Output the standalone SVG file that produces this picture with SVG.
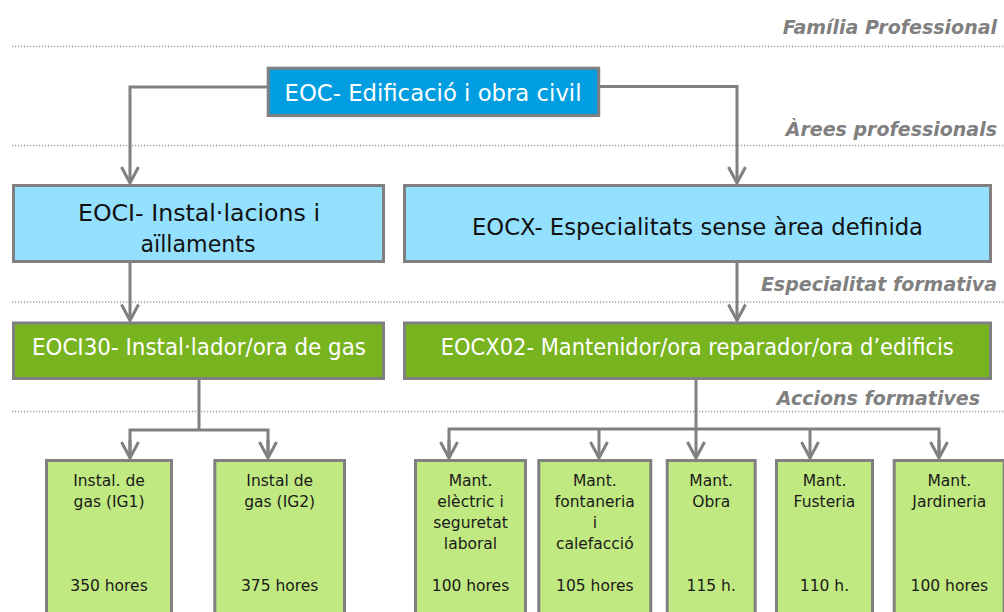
<svg xmlns="http://www.w3.org/2000/svg" width="1004" height="612" viewBox="0 0 1004 612">
<style>
.bg{fill:#ffffff}
.dot{stroke:#9a9a9a;stroke-width:1.5;stroke-dasharray:1.2 1.8;fill:none}
.lvl{font-family:"DejaVu Sans",Verdana,sans-serif;font-weight:bold;font-style:italic;font-size:19px;fill:#808080;text-anchor:end}
.box{stroke:#808080;stroke-width:3}
.fam{fill:#009EE0}
.area{fill:#94E0FF}
.esp{fill:#78B41F}
.acc{fill:#C1E981}
.t{font-family:"DejaVu Sans",Tahoma,Verdana,sans-serif;text-anchor:middle}
.big{font-size:23px}
.sm{font-size:15.5px;fill:#1a1a1a}
.w{fill:#ffffff}
.k{fill:#111111}
.con{stroke:#808080;stroke-width:3;fill:none}
</style>
<defs>
<marker id="arr" markerUnits="userSpaceOnUse" viewBox="-20 -12 22 24" refX="0" refY="0" markerWidth="22" markerHeight="24" orient="auto">
<path d="M-16,-8.5 L0,0 L-16,8.5" fill="none" stroke="#808080" stroke-width="3"/>
</marker>
</defs>
<rect class="bg" x="0" y="0" width="1004" height="612"/>
<g id="levels">
<text class="lvl" x="997" y="34">Família Professional</text>
<line class="dot" x1="12" y1="46.5" x2="1004" y2="46.5"/>
<text class="lvl" x="997" y="136">Àrees professionals</text>
<line class="dot" x1="12" y1="145.5" x2="1004" y2="145.5"/>
<text class="lvl" x="997" y="291">Especialitat formativa</text>
<line class="dot" x1="12" y1="302" x2="1004" y2="302"/>
<text class="lvl" x="980" y="405">Accions formatives</text>
<line class="dot" x1="12" y1="411.5" x2="1004" y2="411.5"/>
</g>
<g id="connectors">
<polyline class="con" points="268,87 130,87 130,183" marker-end="url(#arr)"/>
<polyline class="con" points="599,86.5 737,86.5 737,183" marker-end="url(#arr)"/>
<line class="con" x1="130" y1="262" x2="130" y2="320.5" marker-end="url(#arr)"/>
<line class="con" x1="737" y1="262" x2="737" y2="320.5" marker-end="url(#arr)"/>
<polyline class="con" points="199,379 199,430"/>
<polyline class="con" points="130,458 130,430 268,430 268,458"/>
<line class="con" x1="130" y1="440" x2="130" y2="458" marker-end="url(#arr)"/>
<line class="con" x1="268" y1="440" x2="268" y2="458" marker-end="url(#arr)"/>
<line class="con" x1="696" y1="379" x2="696" y2="458" marker-end="url(#arr)"/>
<polyline class="con" points="449,458 449,429 939,429 939,458"/>
<line class="con" x1="449" y1="440" x2="449" y2="458" marker-end="url(#arr)"/>
<line class="con" x1="599" y1="429" x2="599" y2="458" marker-end="url(#arr)"/>
<line class="con" x1="810" y1="429" x2="810" y2="458" marker-end="url(#arr)"/>
<line class="con" x1="939" y1="440" x2="939" y2="458" marker-end="url(#arr)"/>
</g>
<g id="eoc">
<rect class="box fam" x="268.2" y="68.2" width="330.5" height="47.3"/>
<text class="t big w" x="433" y="101" textLength="297" lengthAdjust="spacingAndGlyphs">EOC- Edificació i obra civil</text>
</g>
<g id="eoci">
<rect class="box area" x="13.5" y="185.5" width="370" height="76"/>
<text class="t big k" x="199" y="220.5" textLength="242" lengthAdjust="spacingAndGlyphs">EOCI- Instal·lacions i</text>
<text class="t big k" x="198" y="251.5" textLength="115" lengthAdjust="spacingAndGlyphs">aïllaments</text>
</g>
<g id="eocx">
<rect class="box area" x="404.5" y="185.5" width="586" height="76"/>
<text class="t big k" x="697.5" y="235" textLength="451" lengthAdjust="spacingAndGlyphs">EOCX- Especialitats sense àrea definida</text>
</g>
<g id="eoci30">
<rect class="box esp" x="13.5" y="323" width="370" height="55.5"/>
<text class="t big w" x="199" y="355" textLength="334" lengthAdjust="spacingAndGlyphs">EOCI30- Instal·lador/ora de gas</text>
</g>
<g id="eocx02">
<rect class="box esp" x="404.5" y="323" width="586" height="55.5"/>
<text class="t big w" x="697.3" y="355" textLength="513" lengthAdjust="spacingAndGlyphs">EOCX02- Mantenidor/ora reparador/ora d’edificis</text>
</g>
<g id="ig1">
<rect class="box acc" x="46.5" y="460.5" width="125" height="170"/>
<text class="t sm" x="109" y="486">Instal. de</text>
<text class="t sm" x="109" y="507">gas (IG1)</text>
<text class="t sm" x="109" y="591">350 hores</text>
</g>
<g id="ig2">
<rect class="box acc" x="214.8" y="460.5" width="129.7" height="170"/>
<text class="t sm" x="279.7" y="486">Instal de</text>
<text class="t sm" x="279.7" y="507">gas (IG2)</text>
<text class="t sm" x="279.7" y="591">375 hores</text>
</g>
<g id="electric">
<rect class="box acc" x="415.5" y="460.5" width="110" height="170"/>
<text class="t sm" x="470.5" y="486">Mant.</text>
<text class="t sm" x="470.5" y="507">elèctric i</text>
<text class="t sm" x="470.5" y="528">seguretat</text>
<text class="t sm" x="470.5" y="549">laboral</text>
<text class="t sm" x="470.5" y="591">100 hores</text>
</g>
<g id="fontaneria">
<rect class="box acc" x="538.8" y="460.5" width="112" height="170"/>
<text class="t sm" x="594.8" y="486">Mant.</text>
<text class="t sm" x="594.8" y="507">fontaneria</text>
<text class="t sm" x="594.8" y="528">i</text>
<text class="t sm" x="594.8" y="549">calefacció</text>
<text class="t sm" x="594.8" y="591">105 hores</text>
</g>
<g id="obra">
<rect class="box acc" x="667.2" y="460.5" width="88" height="170"/>
<text class="t sm" x="711.2" y="486">Mant.</text>
<text class="t sm" x="711.2" y="507">Obra</text>
<text class="t sm" x="711.2" y="591">115 h.</text>
</g>
<g id="fusteria">
<rect class="box acc" x="776.5" y="460.5" width="96" height="170"/>
<text class="t sm" x="824.5" y="486">Mant.</text>
<text class="t sm" x="824.5" y="507">Fusteria</text>
<text class="t sm" x="824.5" y="591">110 h.</text>
</g>
<g id="jardineria">
<rect class="box acc" x="894.2" y="460.5" width="110" height="170"/>
<text class="t sm" x="949.3" y="486">Mant.</text>
<text class="t sm" x="949.3" y="507">Jardineria</text>
<text class="t sm" x="949.3" y="591">100 hores</text>
</g>
</svg>
